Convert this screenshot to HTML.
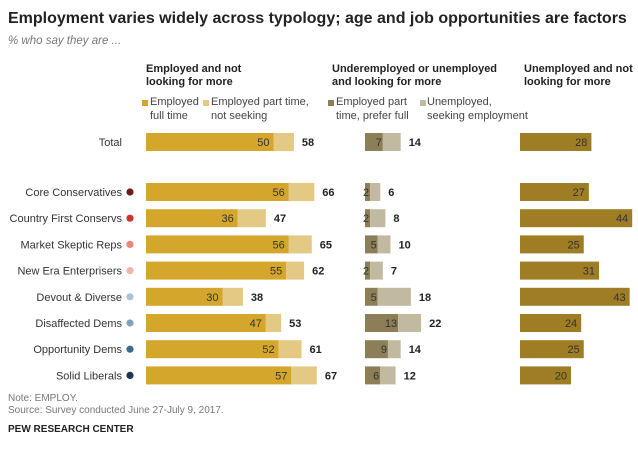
<!DOCTYPE html>
<html><head><meta charset="utf-8"><style>
body{margin:0;width:638px;height:451px;background:#fff;font-family:"Liberation Sans",sans-serif;position:relative;overflow:hidden}
.t{position:absolute;white-space:nowrap}
</style></head><body>
<div class="t" style="left:8px;top:10px;font-size:16px;font-weight:bold;color:#222">Employment varies widely across typology; age and job opportunities are factors</div>
<div class="t" style="left:8px;top:35px;font-size:11.5px;font-style:italic;color:#777">% who say they are ...</div>
<div class="t" style="left:146px;top:63px;font-size:11px;font-weight:bold;line-height:13px;color:#222">Employed and not<br>looking for more</div>
<div class="t" style="left:332px;top:63px;font-size:11px;font-weight:bold;line-height:13px;color:#222">Underemployed or unemployed<br>and looking for more</div>
<div class="t" style="left:524px;top:63px;font-size:11px;font-weight:bold;line-height:13px;color:#222">Unemployed and not<br>looking for more</div>
<div style="position:absolute;left:0;top:0;font-size:11px;color:#444;line-height:14px">
<div class="t" style="left:142px;top:100px;width:6px;height:6px;background:#d4a72c"></div>
<div class="t" style="left:150px;top:95px">Employed<br>full time</div>
<div class="t" style="left:203px;top:100px;width:6px;height:6px;background:#e3c983"></div>
<div class="t" style="left:211px;top:95px">Employed part time,<br>not seeking</div>
<div class="t" style="left:328px;top:100px;width:6px;height:6px;background:#8c7f57"></div>
<div class="t" style="left:336px;top:95px">Employed part<br>time, prefer full</div>
<div class="t" style="left:420px;top:100px;width:6px;height:6px;background:#c2baa0"></div>
<div class="t" style="left:427px;top:95px">Unemployed,<br>seeking employment</div>
</div>
<svg id="c" width="638" height="451" style="position:absolute;left:0;top:0"></svg>
<div class="t" style="left:8px;top:393px;font-size:10px;color:#777">Note: EMPLOY.</div>
<div class="t" style="left:8px;top:405px;font-size:10px;color:#777">Source: Survey conducted June 27-July 9, 2017.</div>
<div class="t" style="left:8px;top:424px;font-size:10px;font-weight:bold;color:#222">PEW RESEARCH CENTER</div>
<script>
const categories=["Total","Core Conservatives","Country First Conservs","Market Skeptic Reps","New Era Enterprisers","Devout & Diverse","Disaffected Dems","Opportunity Dems","Solid Liberals"];
const fullTime=[50,56,36,56,55,30,47,52,57];
const empNet=[58,66,47,65,62,38,53,61,67];
const partPrefer=[7,2,2,5,2,5,13,9,6];
const underNet=[14,6,8,10,7,18,22,14,12];
const notLooking=[28,27,44,25,31,43,24,25,20];
const dotColors=[null,"#6b1c1c","#c8372d","#e8877a","#f0b4ab","#a9c4d8","#7fa3bf","#3f6a8a","#1f3550"];
const svg=document.getElementById('c');
const NS="http://www.w3.org/2000/svg";
const k=2.55;
const X1=146,X2=365,X3=520;
function yRow(i){return i===0?142:192+(i-1)*26.2;}
function sx(v){return v*k;}
function el(t,a,txt){const e=document.createElementNS(NS,t);for(const n in a)e.setAttribute(n,a[n]);if(txt!==undefined)e.textContent=txt;svg.appendChild(e);return e;}
categories.forEach((c,i)=>{
 const y=yRow(i),h=18,top=y-9;
 let e=el('text',{x:122,y:y+4,'text-anchor':'end','font-size':11,fill:'#333'},c);
 
 if(dotColors[i]){e=el('circle',{cx:130,cy:y,r:3.6,fill:dotColors[i]});
 }
 e=el('rect',{x:X1,y:top,width:sx(fullTime[i]),height:h,fill:'#d4a72c'});
 
 e=el('rect',{x:X1+sx(fullTime[i]),y:top,width:sx(empNet[i]-fullTime[i]),height:h,fill:'#e3c983'});
 
 el('text',{x:X1+sx(fullTime[i])-4,y:y+4,'text-anchor':'end','font-size':11,fill:'#333'},fullTime[i]);
 el('text',{x:X1+sx(empNet[i])+8,y:y+4,'font-size':11,'font-weight':'bold',fill:'#222'},empNet[i]);
 e=el('rect',{x:X2,y:top,width:sx(partPrefer[i]),height:h,fill:'#8c7f57'});
 
 e=el('rect',{x:X2+sx(partPrefer[i]),y:top,width:sx(underNet[i]-partPrefer[i]),height:h,fill:'#c2baa0'});
 
 el('text',{x:X2+sx(partPrefer[i])-1,y:y+4,'text-anchor':'end','font-size':11,fill:'#333'},partPrefer[i]);
 el('text',{x:X2+sx(underNet[i])+8,y:y+4,'font-size':11,'font-weight':'bold',fill:'#222'},underNet[i]);
 e=el('rect',{x:X3,y:top,width:sx(notLooking[i]),height:h,fill:'#9e7d24'});
 
 el('text',{x:X3+sx(notLooking[i])-4,y:y+4,'text-anchor':'end','font-size':11,fill:'#333'},notLooking[i]);
});
</script>
</body></html>
